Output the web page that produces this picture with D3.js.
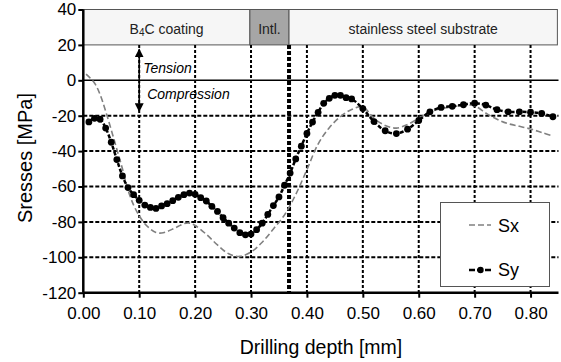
<!DOCTYPE html>
<html>
<head>
<meta charset="utf-8">
<script src="https://cdn.jsdelivr.net/npm/d3@7"></script>
<style>
  body { margin: 0; background: #fff; }
  text { font-family: "Liberation Sans", Arial, sans-serif; }
</style>
</head>
<body>
<div id="chart"></div>
<script>
// Sy: measured points (black dots)
var syDepth = [0.01, 0.02, 0.03, 0.04, 0.05, 0.06, 0.07, 0.08, 0.09, 0.10,
  0.11, 0.12, 0.13, 0.14, 0.15, 0.16, 0.17, 0.18, 0.19, 0.20,
  0.21, 0.22, 0.23, 0.24, 0.25, 0.26, 0.27, 0.28, 0.29, 0.30,
  0.31, 0.32, 0.33, 0.34, 0.35, 0.36, 0.37, 0.38, 0.39, 0.40,
  0.41, 0.42, 0.43, 0.44, 0.45, 0.46, 0.47, 0.48, 0.50, 0.52,
  0.54, 0.56, 0.58, 0.60, 0.62, 0.64, 0.66, 0.68, 0.70, 0.72,
  0.74, 0.76, 0.78, 0.80, 0.82, 0.84];
var syStress = [-23.5, -21.5, -22, -27, -35, -44.8, -54, -60.6, -64.6, -67.8,
  -70.5, -71.8, -72.4, -71.0, -69.7, -68.0, -66.1, -64.6, -63.7, -64.4,
  -66.3, -68.2, -71.2, -74.1, -77.6, -80.7, -83.5, -86.1, -87.3, -86.9,
  -84.4, -80.7, -75.8, -70.8, -65.9, -59.3, -52.4, -44.4, -37.2, -30.0,
  -23.6, -18.1, -13.0, -10.2, -8.5, -8.5, -9.8, -10.5, -16.0, -23.3,
  -28.5, -30.1, -27.6, -22.7, -17.8, -15.3, -14.7, -13.8, -12.9, -14.0,
  -16.6, -17.8, -17.8, -18.0, -18.7, -20.6];

// Sx: grey dashed line
var sxDepth = [0.005, 0.02, 0.03, 0.04, 0.05, 0.06, 0.07, 0.08, 0.09, 0.10,
  0.11, 0.12, 0.13, 0.14, 0.15, 0.16, 0.17, 0.18, 0.19, 0.20,
  0.22, 0.24, 0.26, 0.28, 0.30, 0.32, 0.34, 0.36, 0.38, 0.40,
  0.42, 0.44, 0.46, 0.48, 0.50, 0.52, 0.54, 0.56, 0.58, 0.60,
  0.62, 0.64, 0.66, 0.68, 0.70, 0.72, 0.74, 0.76, 0.78, 0.80,
  0.82, 0.84];
var sxStress = [3.5, -1.5, -8, -17.5, -28, -39, -50, -62, -70.5, -76.5,
  -81, -84, -86, -86.3, -85.5, -84, -82.5, -81, -80.7, -82,
  -87, -93, -98, -99.5, -97, -91.5, -84, -76, -64.5, -50.5,
  -36, -26.8, -20.5, -16.5, -15, -21.5, -25.5, -27, -25, -21.5,
  -17.8, -16, -15, -14, -14.5, -18.5, -22, -24.5, -26, -27.5,
  -29.5, -31.5];

var xTicks = [0, 0.1, 0.2, 0.3, 0.4, 0.5, 0.6, 0.7, 0.8];
var yTicks = [-120, -100, -80, -60, -40, -20, 0, 20, 40];
var gridY = [-20, -40, -60, -80, -100];

var zoneNames = ["B4C coating", "Intl.", "stainless steel substrate"];
var zoneStart = [0, 0.298, 0.368];
var zoneEnd = [0.298, 0.368, 0.848];
var zoneFill = ["#f6f6f6", "#a6a6a6", "#f6f6f6"];

var width = 561, height = 362;
var plotLeft = 83.3, plotRight = 558.5, plotTop = 9.5, plotBottom = 292.7;

var svg = d3.select("#chart").append("svg")
  .attr("width", width)
  .attr("height", height);

var x = d3.scaleLinear().domain([0, 0.85]).range([plotLeft, plotRight]);
var y = d3.scaleLinear().domain([-120, 40]).range([plotBottom, plotTop]);

// header zones
zoneNames.forEach(function (name, i) {
  svg.append("rect")
    .attr("x", x(zoneStart[i]))
    .attr("y", y(40))
    .attr("width", x(zoneEnd[i]) - x(zoneStart[i]))
    .attr("height", y(20) - y(40))
    .style("fill", zoneFill[i])
    .style("stroke", "#555")
    .style("stroke-width", 1);
  var t = svg.append("text")
    .attr("x", (x(zoneStart[i]) + x(zoneEnd[i])) / 2)
    .attr("y", 34)
    .attr("text-anchor", "middle")
    .style("font-size", "14px")
    .style("fill", "#222");
  if (i == 0) {
    t.append("tspan").text("B");
    t.append("tspan").text("4").style("font-size", "10px").attr("dy", 2);
    t.append("tspan").text("C coating").attr("dy", -2);
  } else {
    t.text(name);
  }
});

// gridlines
svg.selectAll(".vgrid")
  .data(xTicks.slice(1))
  .enter().append("line")
  .attr("class", "vgrid")
  .attr("x1", function (d) { return x(d); })
  .attr("x2", function (d) { return x(d); })
  .attr("y1", y(20))
  .attr("y2", y(-120))
  .style("stroke", "#000")
  .style("stroke-width", 2)
  .style("stroke-dasharray", "3,2");

svg.selectAll(".hgrid")
  .data(gridY)
  .enter().append("line")
  .attr("class", "hgrid")
  .attr("x1", x(0))
  .attr("x2", x(0.85))
  .attr("y1", function (d) { return y(d); })
  .attr("y2", function (d) { return y(d); })
  .style("stroke", "#000")
  .style("stroke-width", 2)
  .style("stroke-dasharray", "4,2");

// zero line
svg.append("line")
  .attr("x1", x(0)).attr("x2", x(0.85))
  .attr("y1", y(0)).attr("y2", y(0))
  .style("stroke", "#000")
  .style("stroke-width", 1.5);

// interface line
svg.append("line")
  .attr("x1", x(0.368)).attr("x2", x(0.368))
  .attr("y1", y(20)).attr("y2", y(-120))
  .style("stroke", "#000")
  .style("stroke-width", 4)
  .style("stroke-dasharray", "4,2");

// tension / compression arrow
var defs = svg.append("defs");
defs.append("marker")
  .attr("id", "arrow")
  .attr("viewBox", "0 0 10 10")
  .attr("refX", 9).attr("refY", 5)
  .attr("markerWidth", 9).attr("markerHeight", 9)
  .attr("markerUnits", "userSpaceOnUse")
  .attr("orient", "auto-start-reverse")
  .append("path")
  .attr("d", "M0,0 L10,5 L0,10 Z")
  .style("fill", "#000");

svg.append("line")
  .attr("x1", x(0.1)).attr("x2", x(0.1))
  .attr("y1", y(17.5)).attr("y2", y(-17.5))
  .style("stroke", "#000")
  .style("stroke-width", 1.5)
  .attr("marker-start", "url(#arrow)")
  .attr("marker-end", "url(#arrow)");

svg.append("text")
  .attr("x", x(0.1) + 4).attr("y", 73)
  .style("font-size", "14px").style("font-style", "italic")
  .text("Tension");
svg.append("text")
  .attr("x", x(0.1) + 8).attr("y", 99)
  .style("font-size", "14px").style("font-style", "italic")
  .text("Compression");

// series
var sx = sxDepth.map(function (d, i) { return { x: d, y: sxStress[i] }; });
var sy = syDepth.map(function (d, i) { return { x: d, y: syStress[i] }; });

var line = d3.line()
  .x(function (d) { return x(d.x); })
  .y(function (d) { return y(d.y); })
  .curve(d3.curveCatmullRom);

svg.append("path")
  .datum(sx)
  .attr("d", line)
  .style("fill", "none")
  .style("stroke", "#808080")
  .style("stroke-width", 1.6)
  .style("stroke-dasharray", "6,3");

svg.append("path")
  .datum(sy)
  .attr("d", line)
  .style("fill", "none")
  .style("stroke", "#000")
  .style("stroke-width", 2.5)
  .style("stroke-dasharray", "4,2");

svg.selectAll(".dot")
  .data(sy)
  .enter().append("circle")
  .attr("class", "dot")
  .attr("cx", function (d) { return x(d.x); })
  .attr("cy", function (d) { return y(d.y); })
  .attr("r", 3.4)
  .style("fill", "#000");

// axes
var xAxis = d3.axisBottom(x).tickValues(xTicks).tickSize(5).tickPadding(9)
  .tickFormat(d3.format(".2f"));
var yAxis = d3.axisLeft(y).tickValues(yTicks).tickSize(5).tickPadding(2)
  .tickFormat(function (d) { return String(d); });

var gx = svg.append("g")
  .attr("transform", "translate(0," + plotBottom + ")")
  .call(xAxis);
var gy = svg.append("g")
  .attr("transform", "translate(" + plotLeft + ",0)")
  .call(yAxis);

[gx, gy].forEach(function (g) {
  g.select(".domain").style("stroke", "#000").style("stroke-width", 2.5);
  g.selectAll(".tick line").style("stroke", "#000").style("stroke-width", 2);
  g.selectAll(".tick text")
    .style("font-size", "17px")
    .style("font-family", "Liberation Sans, Arial, sans-serif")
    .style("fill", "#000");
});
gx.select(".domain").attr("d", "M" + plotLeft + ",0H" + plotRight);
gy.select(".domain").attr("d", "M0," + plotTop + "V" + plotBottom);

// axis titles
svg.append("text")
  .attr("x", 321).attr("y", 354)
  .attr("text-anchor", "middle")
  .style("font-size", "19.5px")
  .text("Drilling depth [mm]");

svg.append("text")
  .attr("transform", "translate(32,158) rotate(-90)")
  .attr("text-anchor", "middle")
  .style("font-size", "20px")
  .text("Sresses [MPa]");

// legend
var legend = svg.append("g");
legend.append("rect")
  .attr("x", 440.5).attr("y", 202.5)
  .attr("width", 109).attr("height", 84)
  .style("fill", "#fff")
  .style("stroke", "#555")
  .style("stroke-width", 1);

legend.append("line")
  .attr("x1", 469).attr("x2", 491).attr("y1", 225).attr("y2", 225)
  .style("stroke", "#808080").style("stroke-width", 1.6)
  .style("stroke-dasharray", "6,3");
legend.append("text")
  .attr("x", 498).attr("y", 232)
  .style("font-size", "18px")
  .text("Sx");

legend.append("line")
  .attr("x1", 469).attr("x2", 491).attr("y1", 270).attr("y2", 270)
  .style("stroke", "#000").style("stroke-width", 2.5)
  .style("stroke-dasharray", "6,2");
legend.append("circle")
  .attr("cx", 480.5).attr("cy", 270).attr("r", 3.2)
  .style("fill", "#000");
legend.append("text")
  .attr("x", 498).attr("y", 276)
  .style("font-size", "18px")
  .text("Sy");
</script>
</body>
</html>
